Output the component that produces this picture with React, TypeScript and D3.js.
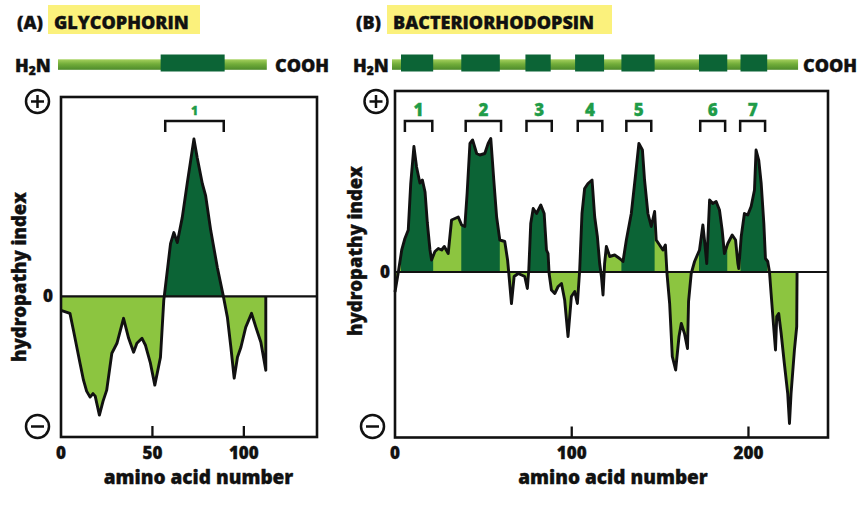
import React from "react";
import * as d3 from "d3";

// ---------- DATA ----------
// Glycophorin hydropathy profile (amino acid number, hydropathy index)
const glycoAA = [0, 4.9, 6.8, 10.4, 12.3, 14, 15.9, 17.5, 18.7, 21, 23, 25, 27.8, 30.6, 34.2, 37, 39.7, 41.5, 44.3, 46.2, 48.9, 51.3, 54.4, 56.2, 57.5, 59.9, 61.7, 63.6, 66.3, 69, 70.9, 72.7, 74.5, 77.3, 79.1, 81.9, 85.5, 88.8, 91, 92.9, 94.7, 96.5, 98.4, 101, 104.2, 106.6, 109.3, 112, 112];
const glycoH = [-0.28, -0.34, -0.68, -1.34, -1.68, -1.9, -2.02, -1.95, -2.0, -2.38, -2.1, -1.88, -1.14, -0.94, -0.44, -0.84, -1.12, -0.94, -0.84, -0.98, -1.34, -1.78, -1.22, -0.08, 0.32, 1.06, 1.28, 1.08, 1.58, 2.26, 2.72, 3.16, 2.78, 2.26, 2.02, 1.32, 0.58, 0, -0.42, -1.02, -1.64, -1.22, -1.02, -0.62, -0.34, -0.62, -0.92, -1.48, 0];
const glycoLength = 112;
const glycoHelixStart = [54.5];
const glycoHelixEnd = [89.5];
const glycoBracketStart = [57];
const glycoBracketEnd = [89];
const glycoBracketLabels = ["1"];
const glycoTicks = [0, 50, 100];

// Bacteriorhodopsin hydropathy profile
const bactAA = [0, 1.9, 3.8, 5.6, 7.5, 8.9, 10.7, 12.2, 14.1, 15.5, 17, 18.3, 19.8, 20.7, 22.6, 24.5, 26.4, 27.9, 30.1, 32, 33.9, 35.8, 37.7, 39.5, 40.8, 42.4, 43.9, 46.2, 48, 50.8, 52.7, 54.2, 55.9, 57.5, 59.3, 62.1, 63.7, 64.4, 65.9, 67.4, 69.7, 71.6, 73.4, 74.9, 75.7, 76.8, 78.2, 80.1, 82.5, 84.4, 85.7, 86.6, 87.2, 88.5, 90.4, 92.3, 94.2, 96, 97.9, 99.8, 101.7, 103.2, 104.5, 105.8, 107.3, 109.2, 111.5, 113, 114.5, 115.8, 116.8, 117.7, 118.6, 119.6, 121.5, 124.3, 127.1, 129, 130.9, 133.7, 136.2, 138, 140, 141.2, 143.1, 145, 146.9, 147.8, 149.7, 151.6, 153, 153.9, 155.4, 156.9, 158.8, 160.7, 162, 163.8, 165.5, 166.1, 167.6, 169.5, 172.3, 174.2, 175.1, 176.4, 178, 179.8, 181.7, 183.6, 185.1, 186.4, 188.3, 190.8, 192.7, 194, 194.5, 195.9, 197.7, 199.6, 201.5, 203.4, 204.3, 205.8, 207.2, 208.7, 209.6, 210.9, 211.9, 212.8, 214.1, 215.3, 216, 217.1, 218.5, 220.3, 222.2, 223.2, 224.1, 226, 227.3, 227.5];
const bactH = [-0.4, 0, 0.44, 0.67, 0.84, 1.77, 2.51, 2.1, 1.78, 1.84, 1.6, 0.98, 0.44, 0.24, 0.41, 0.47, 0.44, 0.51, 0.37, 1.04, 1.07, 1.1, 0.94, 0.91, 1.57, 2.57, 2.64, 2.37, 2.34, 2.37, 2.57, 2.67, 1.84, 1.1, 0.64, 0.61, 0.24, -0.03, -0.63, -0.09, -0.03, -0.06, -0.09, -0.33, 0.04, 0.97, 1.27, 1.17, 1.34, 1.17, 0.44, 0.37, -0.03, -0.36, -0.43, -0.29, -0.23, -0.56, -1.29, -0.49, -0.39, -0.63, 0.04, 1.17, 1.67, 1.77, 1.84, 1.1, 0.71, 0.17, -0.09, -0.46, 0.17, 0.51, 0.31, 0.34, 0.27, 0.21, 0.64, 1.17, 1.97, 2.57, 2.44, 1.84, 1.17, 0.91, 1.21, 0.64, 0.54, 0.44, 0.54, -0.03, -0.63, -1.69, -1.96, -1.29, -1.03, -1.23, -1.53, -0.59, -0.03, 0.21, 0.44, 0.94, 0.64, 0.17, 1.44, 1.37, 1.41, 1.24, 0.84, 0.37, 0.57, 0.74, 0.64, 0.17, 0.07, 0.71, 1.17, 1.14, 1.31, 1.64, 2.44, 2.24, 1.77, 0.97, 0.27, 0.21, 0, -0.43, -1.03, -1.56, -0.89, -0.83, -1.23, -1.83, -2.43, -3.03, -2.43, -1.56, -1.09, 0];
const bactLength = 227.5;
const bactHelixStart = [3.4, 37.5, 73.8, 101.9, 128.1, 172, 195.5];
const bactHelixEnd = [21.6, 59.3, 88.1, 118.3, 146.9, 188, 210.6];
const bactBracketStart = [5.6, 40, 74.4, 103.4, 130.9, 172.7, 195.3];
const bactBracketEnd = [21.1, 60, 88.7, 117.3, 145, 186.8, 209.4];
const bactBracketLabels = ["1", "2", "3", "4", "5", "6", "7"];
const bactTicks = [0, 100, 200];

// ---------- STYLE ----------
const FONT = "'Open Sans', 'Noto Sans', sans-serif";
const DARK = "#0c6436";
const LIGHT = "#8cc540";
const LABEL_GREEN = "#1f9c49";
const YELLOW = "#fbf17c";
const INK = "#111";

type PanelProps = {
  id: string;
  letter: string;
  name: string;
  nameBox: [number, number];
  aa: number[];
  h: number[];
  length: number;
  helixStart: number[];
  helixEnd: number[];
  bracketStart: number[];
  bracketEnd: number[];
  bracketLabels: string[];
  bracketFont: number;
  ticks: number[];
  xDomain: [number, number];
  xRange: [number, number];
  yDomain: [number, number];
  yRange: [number, number];
  plusX: number;
  minusX: number;
  zeroLabelX: number;
  h2nX: number;
  coohX: number;
  yLabelPos: [number, number];
  xLabelX: number;
};

const bold = {
  fontFamily: FONT,
  fontWeight: 800,
  fill: INK,
  stroke: INK,
  strokeWidth: 0.35,
} as const;

function Panel(p: PanelProps) {
  const x = d3.scaleLinear().domain(p.xDomain).range(p.xRange);
  const y = d3.scaleLinear().domain(p.yDomain).range(p.yRange);
  const pts: [number, number][] = p.aa.map((a, i) => [a, p.h[i]]);
  const areaAll = d3
    .area<[number, number]>()
    .x((d) => x(d[0]))
    .y0(y(0))
    .y1((d) => y(d[1]))(pts) as string;
  const areaPos = d3
    .area<[number, number]>()
    .x((d) => x(d[0]))
    .y0(y(0))
    .y1((d) => y(Math.max(0, d[1])))(pts) as string;
  const line = d3
    .line<[number, number]>()
    .x((d) => x(d[0]))
    .y((d) => y(d[1]))(pts) as string;

  const [x0, x1] = p.xRange;
  const top = p.yRange[1];
  const bottom = p.yRange[0];
  const clipId = `helix-${p.id}`;
  const gradId = `bar-${p.id}`;
  const barY = 64.5;

  return (
    <g>
      <defs>
        <clipPath id={clipId}>
          {p.helixStart.map((s, i) => (
            <rect key={i} x={x(s)} y={top} width={x(p.helixEnd[i]) - x(s)} height={bottom - top} />
          ))}
        </clipPath>
        <linearGradient id={gradId} x1="0" y1="0" x2="0" y2="1">
          <stop offset="0" stopColor="#a6d15e" />
          <stop offset="0.45" stopColor="#72ad3a" />
          <stop offset="1" stopColor="#4d8b2b" />
        </linearGradient>
      </defs>

      {/* title */}
      <rect x={p.nameBox[0]} y={5} width={p.nameBox[1] - p.nameBox[0]} height={29} fill={YELLOW} />
      <text x={p.nameBox[0] - 31} y={28.5} fontSize={18} {...bold}>
        {p.letter}
      </text>
      <text x={p.nameBox[0] + 6} y={28.5} fontSize={18} {...bold}>
        {p.name}
      </text>

      {/* protein bar */}
      <text x={p.h2nX} y={71.5} fontSize={18} {...bold}>
        H<tspan fontSize={12} dy={3}>2</tspan>
        <tspan dy={-3}>N</tspan>
      </text>
      <rect x={x(0) - 3} y={barY - 5.2} width={x(p.length) - x(0) + 4} height={10.5} fill={`url(#${gradId})`} />
      {p.helixStart.map((s, i) => (
        <rect key={i} x={x(s)} y={barY - 10} width={x(p.helixEnd[i]) - x(s)} height={17} fill={DARK} />
      ))}
      <text x={p.coohX} y={71.5} fontSize={18} {...bold}>
        COOH
      </text>

      {/* fills */}
      <path d={areaAll} fill={LIGHT} />
      <path d={areaPos} fill={DARK} clipPath={`url(#${clipId})`} />
      <line x1={x0} x2={x1} y1={y(0)} y2={y(0)} stroke={INK} strokeWidth={2.2} />
      <path d={line} fill="none" stroke={INK} strokeWidth={2.9} strokeLinejoin="round" />

      {/* frame */}
      <rect x={x0} y={top} width={x1 - x0} height={bottom - top} fill="none" stroke={INK} strokeWidth={2.6} />

      {/* ticks */}
      {p.ticks.map((t) => (
        <g key={t}>
          {t !== p.xDomain[0] && (
            <line x1={x(t)} x2={x(t)} y1={bottom} y2={bottom - 11} stroke={INK} strokeWidth={2.3} />
          )}
          <text x={x(t)} y={459} textAnchor="middle" fontSize={17} {...bold}>
            {t}
          </text>
        </g>
      ))}
      <text x={p.xLabelX} y={484} textAnchor="middle" fontSize={19} {...bold}>
        amino acid number
      </text>
      <text
        transform={`translate(${p.yLabelPos[0]},${p.yLabelPos[1]}) rotate(-90)`}
        textAnchor="middle"
        fontSize={18.5}
        {...bold}
      >
        hydropathy index
      </text>
      <text x={p.zeroLabelX} y={y(0) + 6} textAnchor="middle" fontSize={17} {...bold}>
        0
      </text>

      {/* plus / minus symbols */}
      <circle cx={p.plusX} cy={101.5} r={11.5} fill="white" stroke={INK} strokeWidth={2.5} />
      <line x1={p.plusX - 6.5} x2={p.plusX + 6.5} y1={101.5} y2={101.5} stroke={INK} strokeWidth={2.5} />
      <line x1={p.plusX} x2={p.plusX} y1={95} y2={108} stroke={INK} strokeWidth={2.5} />
      <circle cx={p.minusX} cy={426.5} r={11.5} fill="white" stroke={INK} strokeWidth={2.5} />
      <line x1={p.minusX - 6.5} x2={p.minusX + 6.5} y1={426.5} y2={426.5} stroke={INK} strokeWidth={2.5} />

      {/* brackets */}
      {p.bracketStart.map((s, i) => {
        const a = x(s);
        const b = x(p.bracketEnd[i]);
        return (
          <g key={i}>
            <path d={`M${a},132 V121 H${b} V132`} fill="none" stroke={INK} strokeWidth={2.5} />
            <text
              x={(a + b) / 2}
              y={p.bracketFont > 14 ? 116 : 115}
              textAnchor="middle"
              fontFamily={FONT}
              fontWeight={800}
              fontSize={p.bracketFont}
              fill={LABEL_GREEN}
              stroke={LABEL_GREEN}
              strokeWidth={0.3}
            >
              {p.bracketLabels[i]}
            </text>
          </g>
        );
      })}
    </g>
  );
}

export default function App() {
  return (
    <svg
      width={864}
      height={513}
      style={{ position: "absolute", left: 0, top: 0, background: "white" }}
    >
      <rect width={864} height={513} fill="white" />
      <Panel
        id="a"
        letter="(A)"
        name="GLYCOPHORIN"
        nameBox={[48, 200]}
        aa={glycoAA}
        h={glycoH}
        length={glycoLength}
        helixStart={glycoHelixStart}
        helixEnd={glycoHelixEnd}
        bracketStart={glycoBracketStart}
        bracketEnd={glycoBracketEnd}
        bracketLabels={glycoBracketLabels}
        bracketFont={12}
        ticks={glycoTicks}
        xDomain={[0, 140]}
        xRange={[61, 317]}
        yDomain={[-2.82, 4]}
        yRange={[437, 97]}
        plusX={37.5}
        minusX={37.5}
        zeroLabelX={48}
        h2nX={15}
        coohX={275}
        yLabelPos={[26, 277]}
        xLabelX={198.5}
      />
      <Panel
        id="b"
        letter="(B)"
        name="BACTERIORHODOPSIN"
        nameBox={[387, 612]}
        aa={bactAA}
        h={bactH}
        length={bactLength}
        helixStart={bactHelixStart}
        helixEnd={bactHelixEnd}
        bracketStart={bactBracketStart}
        bracketEnd={bactBracketEnd}
        bracketLabels={bactBracketLabels}
        bracketFont={17}
        ticks={bactTicks}
        xDomain={[0, 245]}
        xRange={[395, 828]}
        yDomain={[-3.31, 3.62]}
        yRange={[437.5, 91]}
        plusX={376}
        minusX={372.5}
        zeroLabelX={385}
        h2nX={353}
        coohX={803}
        yLabelPos={[362, 251]}
        xLabelX={613}
      />
    </svg>
  );
}
